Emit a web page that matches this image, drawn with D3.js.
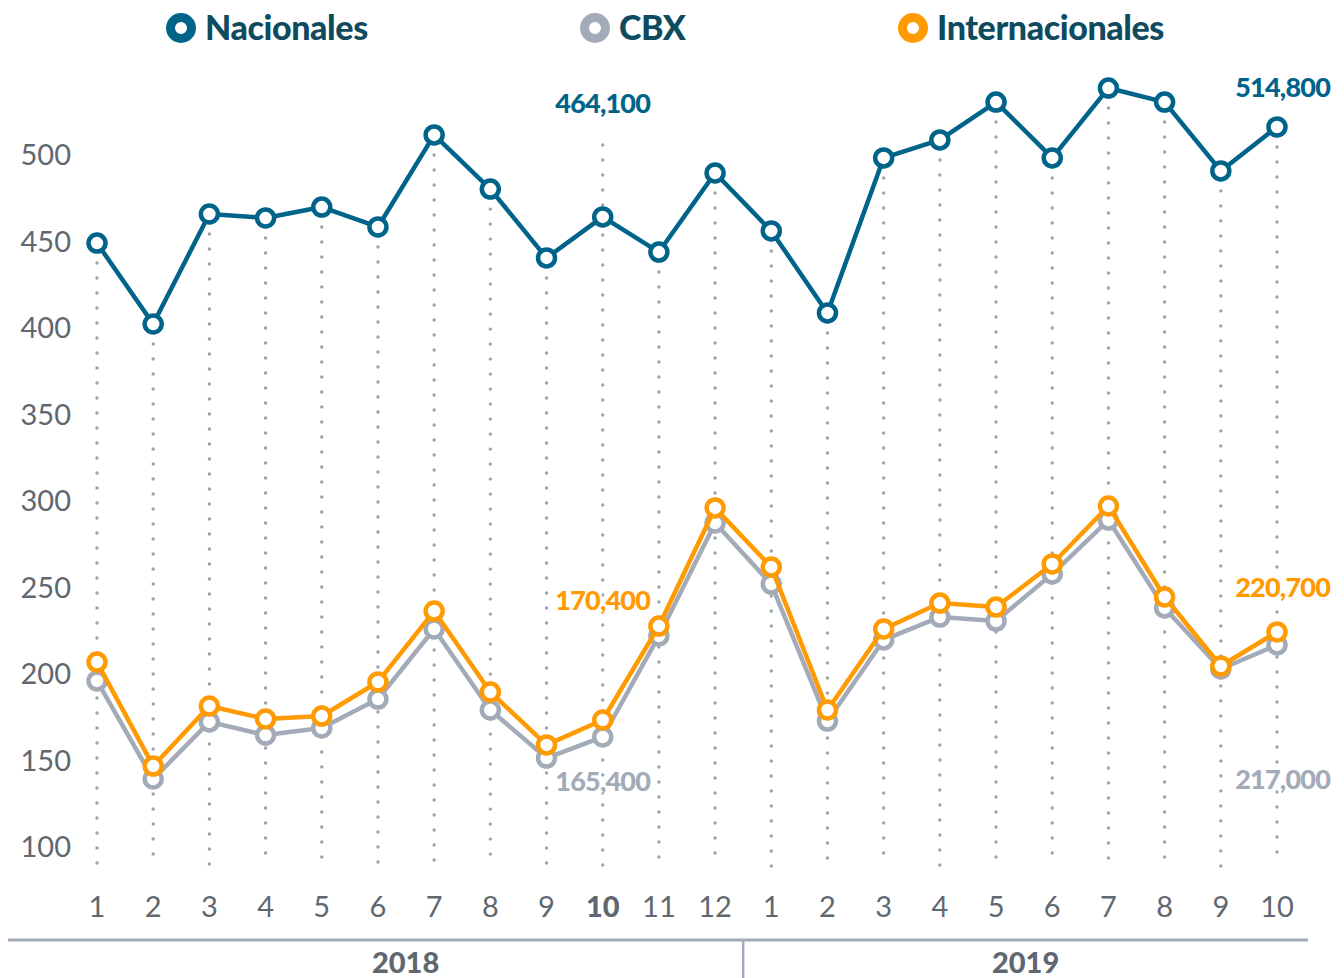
<!DOCTYPE html>
<html><head><meta charset="utf-8">
<script src="https://cdn.jsdelivr.net/npm/d3@7"></script>
<style>
body{margin:0;background:#fff}
svg{display:block;font-family:Lato,"Noto Sans",sans-serif}
</style>
</head><body>
<svg id="c" width="1344" height="978"></svg>
<script>
// ---------- data ----------
const months = ["1","2","3","4","5","6","7","8","9","10","11","12","1","2","3","4","5","6","7","8","9","10"];
const years = ["2018","2019"];
const yearMonthCounts = [12, 10];
const yTicks = [100,150,200,250,300,350,400,450,500];
const seriesNames = ["Nacionales","CBX","Internacionales"];
const nacionales = [449.1,402.3,465.9,463.6,469.9,458.4,511.6,480.3,440.5,464.2,443.9,489.6,
                    456.1,408.7,498.3,508.7,530.6,498.3,538.7,530.6,490.8,516.2];
const cbx = [196.0,139.3,172.3,164.7,168.8,185.5,226.0,179.2,151.4,163.6,222.0,287.3,
             252.0,172.8,219.7,232.9,230.6,257.8,289.0,238.2,202.9,216.8];
const internacionales = [206.9,146.8,181.5,174.0,175.7,195.4,236.4,189.6,159.0,173.4,227.7,296.0,
                         261.8,179.2,226.0,241.0,238.7,263.6,297.1,244.5,204.6,224.3];
const highlightIndex = 9;
const annotationTexts = {
  nac: ["464,100","514,800"],
  cbx: ["165,400","217,000"],
  int: ["170,400","220,700"]
};

// ---------- styles ----------
const C = {nac:"#00638a", cbx:"#a3abb8", int:"#ff9a00", text:"#5f6770", legend:"#0e4b5f", grid:"#9aa2ae"};

const svg = d3.select("#c");
const idx = d3.range(months.length);
const x = d3.scaleLinear().domain([0, months.length-1]).range([97, 1277]);
const y = d3.scaleLinear().domain([100, 500]).range([847, 155]);

// y axis labels
svg.append("g").selectAll("text").data(yTicks).join("text")
  .attr("x", 71).attr("y", d => y(d)).attr("dy", "0.35em")
  .attr("text-anchor","end").attr("font-size", 29).attr("fill", C.text)
  .text(d => d);

// dotted verticals
svg.append("g").selectAll("line").data(idx).join("line")
  .attr("x1", i => x(i)).attr("x2", i => x(i))
  .attr("y1", i => i === highlightIndex ? 145 : y(nacionales[i]) + 20)
  .attr("y2", 866)
  .attr("stroke", C.grid).attr("stroke-width", 3.4)
  .attr("stroke-linecap","round").attr("stroke-dasharray","0 15");

// month labels
svg.append("g").selectAll("text").data(idx).join("text")
  .attr("x", i => x(i)).attr("y", 917)
  .attr("text-anchor","middle").attr("font-size", 29).attr("fill", C.text)
  .attr("font-weight", i => i === highlightIndex ? 900 : 400)
  .text(i => months[i]);

// bottom axis
svg.append("line").attr("x1", 8).attr("x2", 1308).attr("y1", 940).attr("y2", 940)
  .attr("stroke", C.cbx).attr("stroke-width", 3);
const splitX = (x(yearMonthCounts[0]-1) + x(yearMonthCounts[0])) / 2;
svg.append("line").attr("x1", splitX).attr("x2", splitX).attr("y1", 940).attr("y2", 978)
  .attr("stroke", C.cbx).attr("stroke-width", 2.5);
svg.append("g").selectAll("text").data(years).join("text")
  .attr("x", (d,i) => i === 0 ? (8 + splitX)/2 + 30 : (splitX + 1308)/2)
  .attr("y", 973).attr("text-anchor","middle").attr("font-size", 29)
  .attr("font-weight", 900).attr("fill", C.text).text(d => d);

// lines
const line = d3.line().x((d,i) => x(i)).y(d => y(d));
function drawSeries(vals, color) {
  const g = svg.append("g");
  g.append("path").datum(vals).attr("d", line).attr("fill","none")
    .attr("stroke", color).attr("stroke-width", 4.5).attr("stroke-linejoin","round");
  g.selectAll("circle").data(vals).join("circle")
    .attr("cx", (d,i) => x(i)).attr("cy", d => y(d)).attr("r", 8.5)
    .attr("fill","#fff").attr("stroke", color).attr("stroke-width", 4.5);
}
drawSeries(cbx, C.cbx);
drawSeries(internacionales, C.int);
drawSeries(nacionales, C.nac);

// annotations
const last = months.length - 1;
function ann(text, xx, yy, anchor, color) {
  svg.append("text").attr("x", xx).attr("y", yy).attr("text-anchor", anchor)
    .attr("font-size", 27).attr("font-weight", 900).attr("fill", color)
    .attr("letter-spacing", -0.8)
    .attr("stroke","#fff").attr("stroke-width", 5).attr("paint-order","stroke")
    .text(text);
}
ann(annotationTexts.nac[0], x(highlightIndex), y(nacionales[highlightIndex]) - 104, "middle", C.nac);
ann(annotationTexts.nac[1], x(last) + 53, y(nacionales[last]) - 30, "end", C.nac);
ann(annotationTexts.int[0], x(highlightIndex), y(internacionales[highlightIndex]) - 110, "middle", C.int);
ann(annotationTexts.cbx[0], x(highlightIndex), y(cbx[highlightIndex]) + 54, "middle", C.cbx);
ann(annotationTexts.int[1], x(last) + 53, y(internacionales[last]) - 35, "end", C.int);
ann(annotationTexts.cbx[1], x(last) + 53, y(cbx[last]) + 144, "end", C.cbx);

// legend
const legendX = [181, 595, 913];
const legendColors = [C.nac, C.cbx, C.int];
const lg = svg.append("g").selectAll("g").data(seriesNames).join("g")
  .attr("transform", (d,i) => `translate(${legendX[i]},28)`);
lg.append("circle").attr("r", 10.5).attr("fill","#fff")
  .attr("stroke", (d,i) => legendColors[i]).attr("stroke-width", 9);
lg.append("text").attr("x", 24).attr("y", 12).attr("font-size", 34)
  .attr("font-weight", 900).attr("fill", C.legend).attr("letter-spacing", -0.4)
  .text(d => d);
</script>
</body></html>
